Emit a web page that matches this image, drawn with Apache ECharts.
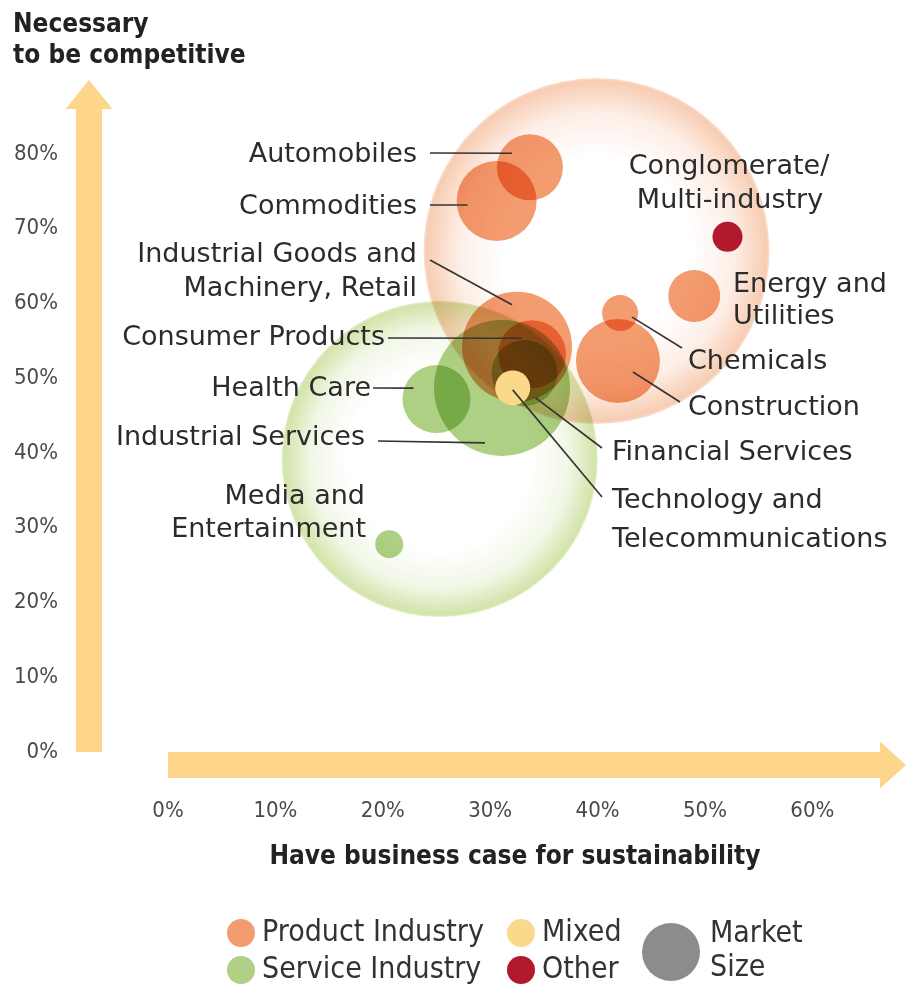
<!DOCTYPE html>
<html>
<head>
<meta charset="utf-8">
<script src="https://cdn.jsdelivr.net/npm/echarts@6/dist/echarts.min.js"></script>
<style>
html,body{margin:0;padding:0;background:#fff;}
#main{width:906px;height:991px;}
</style>
</head>
<body>
<div id="main"></div>
<script>
// ---------- data ----------
const productNames = ['Automobiles', 'Commodities', 'Industrial Goods and Machinery, Retail', 'Consumer Products', 'Chemicals', 'Construction', 'Energy and Utilities'];
const productBusinessCase = [33.7, 30.6, 32.5, 33.9, 42.1, 41.9, 49.0];
const productCompetitive = [78.2, 73.7, 54.2, 53.2, 58.7, 52.3, 61.0];
const productMarketSize = [33, 40, 55, 34, 18, 42, 26];

const serviceNames = ['Health Care', 'Industrial Services', 'Financial Services', 'Media and Entertainment'];
const serviceBusinessCase = [25.0, 31.1, 33.2, 20.6];
const serviceCompetitive = [47.2, 48.7, 50.7, 27.8];
const serviceMarketSize = [34, 68, 33, 14];

const mixedNames = ['Technology and Telecommunications'];
const mixedBusinessCase = [32.1];
const mixedCompetitive = [48.7];
const mixedMarketSize = [17.5];

const otherNames = ['Conglomerate/Multi-industry'];
const otherBusinessCase = [52.1];
const otherCompetitive = [68.9];
const otherMarketSize = [15];

const totalNames = ['Product Industry total', 'Service Industry total'];
const totalBusinessCase = [39.9, 25.3];
const totalCompetitive = [67.0, 39.2];
const totalMarketSize = [173, 158];

const xTickValues = [0, 10, 20, 30, 40, 50, 60];
const yTickValues = [0, 10, 20, 30, 40, 50, 60, 70, 80];

// ---------- styling / layout ----------
const LABEL_FONT = '27px "DejaVu Sans", sans-serif';
const COND = '"DejaVu Sans Condensed", "Liberation Sans Narrow", "DejaVu Sans", sans-serif';
const ARROW = '#fdd68c';
const C_PRODUCT = '#f29160';
const C_SERVICE = '#a6cb78';
const C_MIXED = '#fbd98a';
const C_OTHER = '#b3192c';

function pts(names, xs, ys, ss) {
  return names.map((n, i) => ({ name: n, value: [xs[i], ys[i], ss[i]] }));
}
const sizeFn = v => v[2] * 2;

const chart = echarts.init(document.getElementById('main'));

const option = {
  backgroundColor: '#ffffff',
  animation: false,
  grid: { left: 168, right: 26, top: 109, bottom: 239, containLabel: false },
  xAxis: {
    type: 'value', min: 0, max: 66.3, interval: 10, position: 'bottom', offset: 13,
    splitLine: { show: false }, axisTick: { show: false },
    axisLine: { show: true, onZero: false, symbol: ['none', 'triangle'], symbolSize: [47, 26], symbolOffset: [0, 13],
      lineStyle: { color: ARROW, width: 26, cap: 'butt' } },
    axisLabel: { margin: 35, fontFamily: COND, fontSize: 22, color: '#4a4a4a',
      formatter: v => (xTickValues.indexOf(v) >= 0 ? v + '%' : '') }
  },
  yAxis: {
    type: 'value', min: 0, max: 86, interval: 10, position: 'left', offset: 79,
    splitLine: { show: false }, axisTick: { show: false },
    axisLine: { show: true, onZero: false, symbol: ['none', 'triangle'], symbolSize: [47, 29], symbolOffset: [0, 14.5],
      lineStyle: { color: ARROW, width: 26, cap: 'butt' } },
    axisLabel: { margin: 31, fontFamily: COND, fontSize: 22, color: '#4a4a4a',
      formatter: v => (yTickValues.indexOf(v) >= 0 ? v + '%' : '') }
  },
  legend: [
    { data: ['Product Industry', 'Service Industry'], orient: 'vertical', left: 227, top: 918, height: 90,
      icon: 'circle', itemWidth: 28, itemHeight: 28, itemGap: 7, selectedMode: false, padding: 0,
      textStyle: { fontFamily: COND, fontSize: 30, lineHeight: 30, color: '#333', padding: [0, 0, 0, 2] } },
    { data: ['Mixed', 'Other'], orient: 'vertical', left: 507, top: 918, height: 90,
      icon: 'circle', itemWidth: 28, itemHeight: 28, itemGap: 7, selectedMode: false, padding: 0,
      textStyle: { fontFamily: COND, fontSize: 30, lineHeight: 30, color: '#333', padding: [0, 0, 0, 2] } }
  ],
  series: [
    { name: 'Product Industry total', type: 'scatter', z: 1, blendMode: 'multiply', silent: true,
      symbolSize: sizeFn,
      itemStyle: { opacity: 1, color: { type: 'radial', x: 0.5, y: 0.5, r: 0.5, colorStops: [
        { offset: 0, color: '#ffffff' }, { offset: 0.55, color: '#ffffff' }, { offset: 0.8, color: '#fdeee6' },
        { offset: 0.93, color: '#f9d6c1' }, { offset: 0.985, color: '#f7cdb3' }, { offset: 1, color: '#fbe2d3' }] } },
      data: [pts(totalNames, totalBusinessCase, totalCompetitive, totalMarketSize)[0]] },
    { name: 'Service Industry total', type: 'scatter', z: 1, blendMode: 'multiply', silent: true,
      symbolSize: sizeFn,
      itemStyle: { opacity: 1, color: { type: 'radial', x: 0.5, y: 0.5, r: 0.5, colorStops: [
        { offset: 0, color: '#ffffff' }, { offset: 0.58, color: '#ffffff' }, { offset: 0.82, color: '#f1f7e6' },
        { offset: 0.94, color: '#dbe9b9' }, { offset: 0.985, color: '#d3e4aa' }, { offset: 1, color: '#e3eec8' }] } },
      data: [pts(totalNames, totalBusinessCase, totalCompetitive, totalMarketSize)[1]] },
    { name: 'Product Industry', type: 'scatter', z: 3, blendMode: 'multiply', symbolSize: sizeFn,
      itemStyle: { color: C_PRODUCT, opacity: 0.9 },
      data: pts(productNames, productBusinessCase, productCompetitive, productMarketSize) },
    { name: 'Service Industry', type: 'scatter', z: 3, blendMode: 'multiply', symbolSize: sizeFn,
      itemStyle: { color: C_SERVICE, opacity: 0.9 },
      data: pts(serviceNames, serviceBusinessCase, serviceCompetitive, serviceMarketSize) },
    { name: 'Mixed', type: 'scatter', z: 4, symbolSize: sizeFn,
      itemStyle: { color: C_MIXED, opacity: 1 },
      data: pts(mixedNames, mixedBusinessCase, mixedCompetitive, mixedMarketSize) },
    { name: 'Other', type: 'scatter', z: 4, symbolSize: sizeFn,
      itemStyle: { color: C_OTHER, opacity: 1 },
      data: pts(otherNames, otherBusinessCase, otherCompetitive, otherMarketSize) }
  ]
};
chart.setOption(option);

// ---------- annotations (label layout) ----------
// lines: [text, x, y, align]; leader: start pixel + end offset from bubble centre
const annotations = [
  { name: 'Automobiles', lines: [['Automobiles', 417, 155, 'right']], from: [430, 153], off: [-18, -14] },
  { name: 'Commodities', lines: [['Commodities', 417, 207, 'right']], from: [430, 205], off: [-29, 4] },
  { name: 'Industrial Goods and Machinery, Retail', lines: [['Industrial Goods and', 417, 255, 'right'], ['Machinery, Retail', 417, 289, 'right']], from: [430, 260], off: [-5, -42] },
  { name: 'Consumer Products', lines: [['Consumer Products', 385, 338, 'right']], from: [388, 338], off: [-10, -16] },
  { name: 'Health Care', lines: [['Health Care', 371, 389, 'right']], from: [373, 388], off: [-23, -11] },
  { name: 'Industrial Services', lines: [['Industrial Services', 365, 438, 'right']], from: [378, 441], off: [-17, 55] },
  { name: 'Media and Entertainment', lines: [['Media and', 365, 497, 'right'], ['Entertainment', 366, 530, 'right']] },
  { name: 'Conglomerate/Multi-industry', lines: [['Conglomerate/', 729, 167, 'center'], ['Multi-industry', 730, 201, 'center']] },
  { name: 'Energy and Utilities', lines: [['Energy and', 733, 285, 'left'], ['Utilities', 733, 317, 'left']] },
  { name: 'Chemicals', lines: [['Chemicals', 688, 362, 'left']], from: [682, 348], off: [12, 4] },
  { name: 'Construction', lines: [['Construction', 688, 408, 'left']], from: [680, 402], off: [15, 11] },
  { name: 'Financial Services', lines: [['Financial Services', 612, 453, 'left']], from: [602, 448], off: [11, 25] },
  { name: 'Technology and Telecommunications', lines: [['Technology and', 612, 501, 'left'], ['Telecommunications', 612, 540, 'left']], from: [602, 497], off: [0, 2] }
];

const lookup = {};
[[productNames, productBusinessCase, productCompetitive], [serviceNames, serviceBusinessCase, serviceCompetitive],
 [mixedNames, mixedBusinessCase, mixedCompetitive], [otherNames, otherBusinessCase, otherCompetitive]].forEach(g => {
  g[0].forEach((n, i) => { lookup[n] = [g[1][i], g[2][i]]; });
});

const graphics = [];
annotations.forEach(a => {
  a.lines.forEach(l => {
    graphics.push({ type: 'text', z: 100, style: { text: l[0], x: l[1], y: l[2], font: LABEL_FONT, fill: '#2b2b2b', textAlign: l[3], textVerticalAlign: 'middle' } });
  });
  if (a.from) {
    const c = chart.convertToPixel({ xAxisIndex: 0, yAxisIndex: 0 }, lookup[a.name]);
    graphics.push({ type: 'line', z: 99, shape: { x1: a.from[0], y1: a.from[1], x2: c[0] + a.off[0], y2: c[1] + a.off[1] },
      style: { stroke: '#333', lineWidth: 1.6 } });
  }
});

// axis titles
graphics.push({ type: 'text', z: 100, style: { text: 'Necessary', x: 13, y: 25, font: 'bold 26px ' + COND, fill: '#222', textAlign: 'left', textVerticalAlign: 'middle' } });
graphics.push({ type: 'text', z: 100, style: { text: 'to be competitive', x: 13, y: 56, font: 'bold 26px ' + COND, fill: '#222', textAlign: 'left', textVerticalAlign: 'middle' } });
graphics.push({ type: 'text', z: 100, style: { text: 'Have business case for sustainability', x: 515, y: 857, font: 'bold 26px ' + COND, fill: '#222', textAlign: 'center', textVerticalAlign: 'middle' } });

// market size legend key
graphics.push({ type: 'circle', z: 100, shape: { cx: 671, cy: 952, r: 29 }, style: { fill: '#8e8b8b' } });
graphics.push({ type: 'text', z: 100, style: { text: 'Market', x: 710, y: 934, font: '30px ' + COND, fill: '#333', textAlign: 'left', textVerticalAlign: 'middle' } });
graphics.push({ type: 'text', z: 100, style: { text: 'Size', x: 710, y: 968, font: '30px ' + COND, fill: '#333', textAlign: 'left', textVerticalAlign: 'middle' } });

chart.setOption({ graphic: graphics });
</script>
</body>
</html>
